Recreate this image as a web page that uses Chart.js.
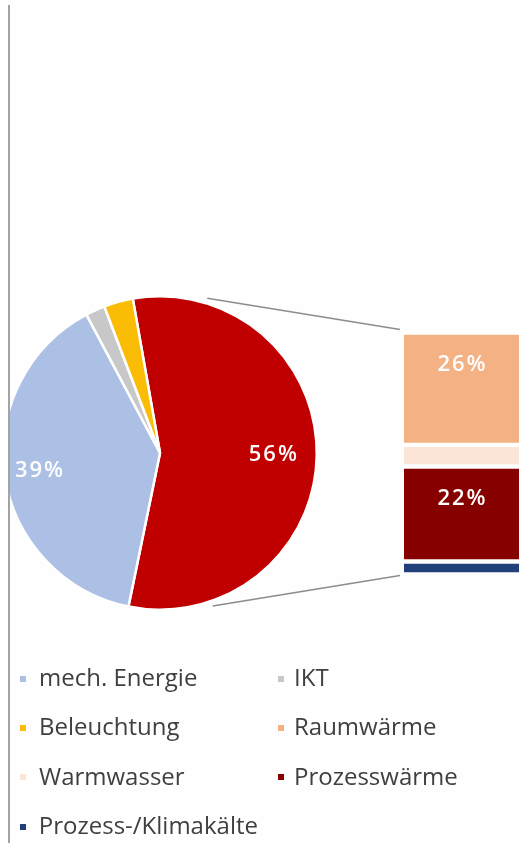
<!DOCTYPE html>
<html lang="de">
<head>
    <meta charset="UTF-8">
    <title>Endenergie nach Anwendungen</title>
    <style>
body, html {
    margin: 0;
    padding: 0;
    background: #fefefe;
    overflow: hidden;
}
#wrap {
    position: relative;
    width: 519px;
    height: 843px;
    overflow: hidden;
    font-family: 'Open Sans', sans-serif;
}
#wrap canvas {
    position: absolute;
    left: 0;
    top: 0;
}
#cover {  /* the pie is cut off at the left rule */
    position: absolute;
    left: 0; top: 0;
    width: 8px; height: 843px;
    background: #fefefe;
}
#rule {
    position: absolute;
    left: 8px; top: 5px;
    width: 2px; height: 838px;
    background: #a3a3a3;
}
#legend {
    position: absolute;
    left: 0;
    top: 652px;
    width: 519px;
    display: grid;
    grid-template-columns: 258px 261px;
    grid-auto-rows: 49.3px;
    color: #3f3f3f;
    font-size: 24px;
}
#legend .item {
    display: flex;
    align-items: center;
    white-space: nowrap;
    padding-left: 20px;
}
#legend .box {
    width: 6px;
    height: 6px;
    margin-right: 13px;
    transform: translateY(2px);
}
#legend .item:nth-child(even) .box { margin-right: 10px; }
    </style>
    <script src="https://cdn.jsdelivr.net/npm/chart.js"></script>
</head>
<body>
<div id="wrap">
    <canvas id="pieChart" width="519" height="843"></canvas>
    <canvas id="barChart" width="519" height="843"></canvas>
    <div id="cover"></div>
    <div id="rule"></div>
    <div id="legend"></div>
</div>

<script>
// pie: heat group first, then clockwise
const pieLabels = ['Wärme/Kälte', 'mech. Energie', 'IKT', 'Beleuchtung'];
const pieValues = [56, 39, 2, 3];
const pieColors = ['#C00000', '#ABC0E4', '#C8C8C8', '#FBBC05'];

// bar: split of the heat group, top to bottom
const barLabels = ['Raumwärme', 'Warmwasser', 'Prozesswärme', 'Prozess-/Klimakälte'];
const barValues = [26, 5, 22, 3];
const barColors = ['#F4B183', '#FBE5D6', '#870000', '#213F78'];

// legend order as in the picture
const legendLabels = ['mech. Energie', 'IKT', 'Beleuchtung', 'Raumwärme', 'Warmwasser', 'Prozesswärme', 'Prozess-/Klimakälte'];

const labelFont = '600 22px "Open Sans", sans-serif';
const pieLabelRadius = [0.72, 0.78, 0.7, 0.7];

function drawLabel(ctx, text, x, y) {
    ctx.letterSpacing = '2px';
    ctx.fillText(text, x + 1, y);  // +1 offsets the trailing spacing
}

const pieLabelPlugin = {
    id: 'pieLabels',
    afterDatasetsDraw(chart) {
        const ctx = chart.ctx;
        const meta = chart.getDatasetMeta(0);
        ctx.save();
        ctx.font = labelFont;
        ctx.fillStyle = '#ffffff';
        ctx.textAlign = 'center';
        ctx.textBaseline = 'middle';
        meta.data.forEach((arc, i) => {
            const v = pieValues[i];
            if (v < 10) return;
            const mid = (arc.startAngle + arc.endAngle) / 2;
            const r = arc.outerRadius * pieLabelRadius[i];
            drawLabel(ctx, v + '%', arc.x + Math.cos(mid) * r, arc.y + Math.sin(mid) * r);
        });
        ctx.restore();
    }
};

const pieChart = new Chart(document.getElementById('pieChart'), {
    type: 'pie',
    data: {
        labels: pieLabels,
        datasets: [{
            data: pieValues,
            backgroundColor: pieColors,
            borderColor: '#ffffff',
            borderWidth: 2.5
        }]
    },
    options: {
        responsive: false,
        animation: false,
        rotation: -10,
        layout: { padding: { left: 2, right: 201, top: 295, bottom: 232 } },
        plugins: {
            legend: { display: false },
            tooltip: { enabled: false }
        }
    },
    plugins: [pieLabelPlugin]
});

// bar labels + connector lines from the pie to the bar
const barExtrasPlugin = {
    id: 'barExtras',
    afterDatasetsDraw(chart) {
        const ctx = chart.ctx;
        ctx.save();
        ctx.font = labelFont;
        ctx.fillStyle = '#ffffff';
        ctx.textAlign = 'center';
        ctx.textBaseline = 'middle';
        chart.data.datasets.forEach((ds, i) => {
            const v = ds.data[0];
            if (v < 10) return;
            const bar = chart.getDatasetMeta(i).data[0];
            const top = Math.min(bar.y, bar.base);
            drawLabel(ctx, v + '%', bar.x, top + 32);
        });

        const arc = pieChart.getDatasetMeta(0).data[0];
        const r = arc.outerRadius + 5;
        const pt = deg => {
            const a = (deg - 90) * Math.PI / 180;
            return [arc.x + Math.cos(a) * r, arc.y + Math.sin(a) * r];
        };
        const first = chart.getDatasetMeta(0).data[0];
        const last = chart.getDatasetMeta(chart.data.datasets.length - 1).data[0];
        const left = first.x - first.width / 2;
        const top = Math.min(first.y, first.base);
        const bottom = Math.max(last.y, last.base);
        ctx.strokeStyle = '#8c8c8c';
        ctx.lineWidth = 1.6;
        ctx.beginPath();
        let p = pt(17);
        ctx.moveTo(p[0], p[1]);
        ctx.lineTo(left - 4, top - 3);
        p = pt(161);
        ctx.moveTo(p[0], p[1]);
        ctx.lineTo(left - 4, bottom + 1);
        ctx.stroke();
        ctx.restore();
    }
};

new Chart(document.getElementById('barChart'), {
    type: 'bar',
    data: {
        labels: [''],
        datasets: barLabels.map((label, i) => ({
            label: label,
            data: [barValues[i]],
            backgroundColor: barColors[i],
            borderColor: '#ffffff',
            borderWidth: { top: 2.5, bottom: 2.5, left: 0, right: 0 },
            borderSkipped: false,
            barPercentage: 1,
            categoryPercentage: 1
        }))
    },
    options: {
        responsive: false,
        animation: false,
        layout: { padding: { left: 404, right: 0, top: 332.5, bottom: 268.5 } },
        scales: {
            x: { display: false, stacked: true },
            y: {
                display: false,
                stacked: true,
                reverse: true,
                min: 0,
                max: barValues.reduce((a, b) => a + b, 0)
            }
        },
        plugins: {
            legend: { display: false },
            tooltip: { enabled: false }
        }
    },
    plugins: [barExtrasPlugin]
});

// html legend
const colorOf = {};
pieLabels.forEach((l, i) => colorOf[l] = pieColors[i]);
barLabels.forEach((l, i) => colorOf[l] = barColors[i]);
const legend = document.getElementById('legend');
legendLabels.forEach(label => {
    const item = document.createElement('div');
    item.className = 'item';
    const box = document.createElement('span');
    box.className = 'box';
    box.style.background = colorOf[label];
    item.appendChild(box);
    item.appendChild(document.createTextNode(label));
    legend.appendChild(item);
});
</script>
</body>
</html>
